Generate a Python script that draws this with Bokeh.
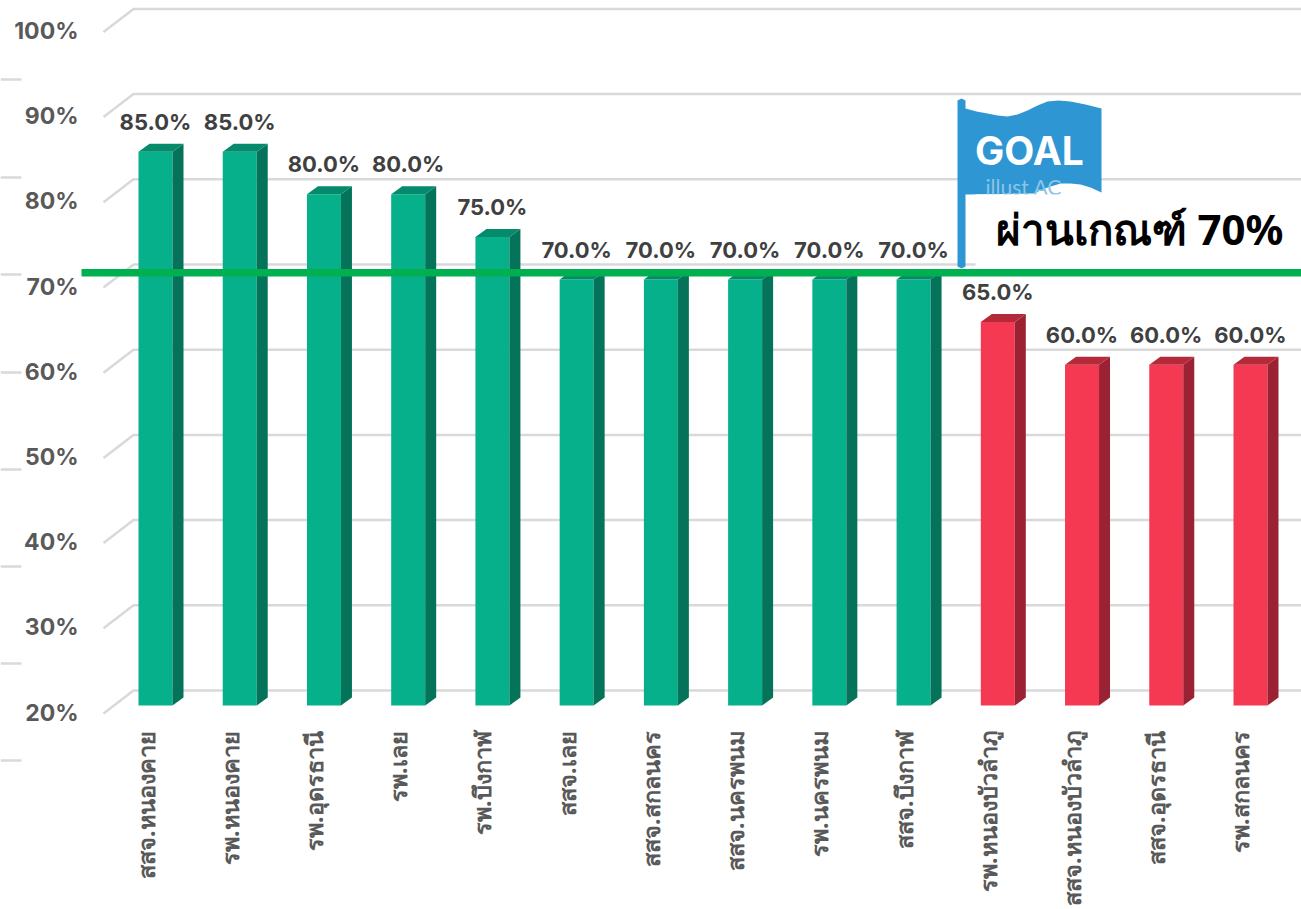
from math import pi
from bokeh.plotting import figure
from bokeh.models import Range1d
from bokeh.core.properties import value
from bokeh.embed import file_html
from bokeh.resources import INLINE

categories = ["สสจ.หนองคาย","รพ.หนองคาย","รพ.อุดรธานี","รพ.เลย","รพ.บึงกาฬ","สสจ.เลย","สสจ.สกลนคร",
              "สสจ.นครพนม","รพ.นครพนม","สสจ.บึงกาฬ","รพ.หนองบัวลำภู","สสจ.หนองบัวลำภู","สสจ.อุดรธานี","รพ.สกลนคร"]
values = [85,85,80,80,75,70,70,70,70,70,65,60,60,60]
tick_values = [20,30,40,50,60,70,80,90,100]
goal_line = 70.8
goal_text = "ผ่านเกณฑ์ 70%"
threshold = 70

X0, DX = 155.0, 84.23
Y0, DY = 705.0, 8.52
W, H = 1301, 909
def fx(px): return (px - X0) / DX
def fy(py): return 20 + (Y0 - py) / DY
p = figure(width=W, height=H, output_backend="svg", toolbar_location=None,
           x_range=Range1d(fx(0), fx(W)), y_range=Range1d(fy(H), fy(0)),
           min_border=0, outline_line_color=None, background_fill_color="white", border_fill_color="white")
p.xaxis.visible = False
p.yaxis.visible = False
p.grid.visible = False

GRID = "#D9D9D9"
back_shift = 15 / DY
for t in tick_values:
    yb = t + back_shift
    yf = yb - 23 / DY
    p.line([fx(103), fx(133), fx(W)], [yf, yb, yb], line_color=GRID, line_width=2.5)
for py in [79,177,274,372,469,566,663,760]:
    p.line([fx(0), fx(21)], [fy(py), fy(py)], line_color=GRID, line_width=2.5)

hw = 17 / DX
sx = 11 / DX
sy = 8 / DY
def cols(v):
    return ("#06B08A","#05735A","#058A6C") if v >= threshold else ("#F53952","#9B2232","#B52A3B")
for i, v in enumerate(values):
    front, side, top = cols(v)
    p.patch([i-hw, i+hw, i+hw, i-hw], [20, 20, v, v], fill_color=front, line_color=None)
    p.patch([i+hw, i+hw+sx, i+hw+sx, i+hw], [20, 20+sy, v+sy, v], fill_color=side, line_color=None)
    p.patch([i-hw, i-hw+sx, i+hw+sx, i+hw], [v, v+sy, v+sy, v], fill_color=top, line_color=None)

NUM = value("Inter")
THAI = value("Noto Sans")
p.text(x=list(range(len(values))), y=values, text=[f"{v:.1f}%" for v in values],
       y_offset=-30, text_align="center", text_baseline="middle", text_font=NUM,
       text_font_style="bold", text_font_size="22px", text_color="#404040")
p.text(x=[fx(78)]*len(tick_values), y=[t + back_shift - 23/DY for t in tick_values],
       text=[f"{t}%" for t in tick_values], y_offset=-1, text_align="right", text_baseline="middle",
       text_font=NUM, text_font_style="bold", text_font_size="23px", text_color="#595959")
p.text(x=[i - 10/DX for i in range(len(categories))], y=[fy(731)]*len(categories), text=categories,
       angle=pi/2, text_align="right", text_baseline="middle", text_font=THAI,
       text_font_style="bold", text_font_size="23.5px", text_color="#595959")

flag = [(957,100),(961,98),(965,100),(965,108),(976,111),(987,113),(997,115),(1007,116),(1017,114),(1027,110),
        (1037,105),(1047,101),(1058,100),(1070,101),(1085,104),(1101,108),(1101,192),(1090,187),(1080,184),(1070,183),
        (1060,183),(1047,187),(1033,193),(965,194),(965,266),(961,268),(957,266)]
p.patch([fx(a) for a,b in flag],[fy(b) for a,b in flag], fill_color="#2E96D3", line_color=None)
p.text(x=[fx(985)], y=[fy(186)], text=["illust AC"], text_align="left", text_baseline="middle", text_font=value("Lato"),
       text_font_size="21px", text_color="#8CC4E6")
p.quad(left=[fx(975)], right=[fx(1301)], top=[fy(194)], bottom=[fy(268)], fill_color="white", line_color=None)
p.text(x=[fx(1029)], y=[fy(150)], text=["GOAL"], text_align="center", text_baseline="middle", text_font=NUM,
       text_font_style="bold", text_font_size="39px", text_color="white")
p.text(x=[fx(1283)], y=[fy(228)], text=[goal_text], text_align="right", text_baseline="middle", text_font=THAI,
       text_font_style="bold", text_font_size="42px", text_color="black")
p.line([fx(81), fx(W)], [goal_line, goal_line], line_color="#00B050", line_width=7.5)

open("out.html", "w").write(file_html(p, INLINE))
